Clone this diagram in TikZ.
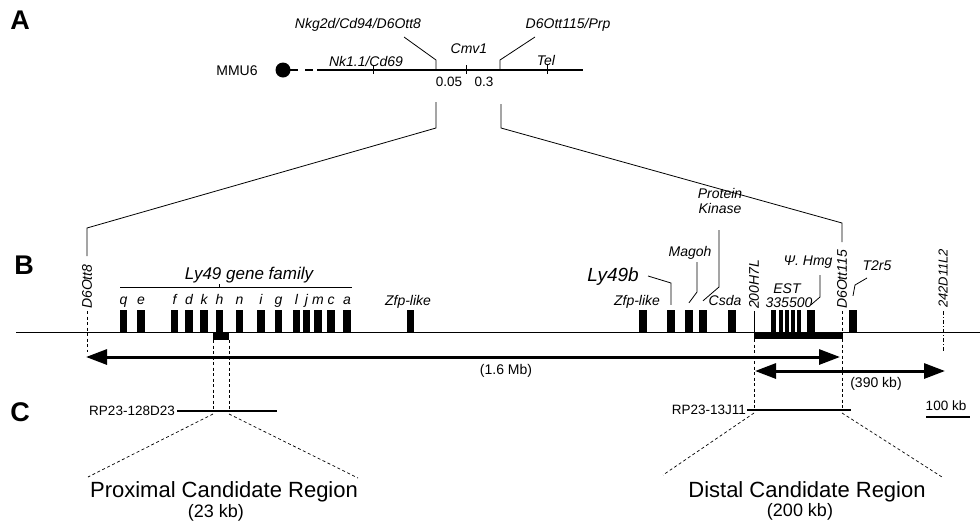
\documentclass[tikz,border=0pt]{standalone}
\usepackage{fontspec}
\setmainfont{Liberation Sans}
\usetikzlibrary{arrows.meta}
\begin{document}
\begin{tikzpicture}[x=1pt,y=-1pt,
  lab/.style={font=\fontsize{14}{16}\selectfont\itshape, inner sep=0pt, anchor=base},
  num/.style={font=\fontsize{13.5}{15}\selectfont, inner sep=0pt, anchor=base},
  big/.style={font=\fontsize{22}{24}\selectfont, inner sep=0pt, anchor=base},
  mid/.style={font=\fontsize{18}{20}\selectfont, inner sep=0pt, anchor=base},
  panel/.style={font=\fontsize{27}{29}\selectfont\bfseries, inner sep=0pt},
  vlab/.style={font=\fontsize{14}{16}\selectfont\itshape, inner sep=0pt, rotate=90, anchor=west},
  gene/.style={fill=black, draw=none, minimum width=7.5pt, minimum height=22pt, inner sep=0pt},
  narrow/.style={gene, minimum width=4.5pt},
  thinline/.style={line width=0.8pt},
  dsh/.style={line width=0.7pt, dash pattern=on 3pt off 2.5pt},
  dshdot/.style={line width=0.7pt, dash pattern=on 4pt off 2pt on 1pt off 2pt},
  bigarrow/.style={line width=3pt, {Triangle[length=21pt,width=15pt]}-{Triangle[length=21pt,width=15pt]}},
  clone/.style={line width=2.5pt}
]
\useasboundingbox (0,0) rectangle (980,523);
\fill[white] (0,0) rectangle (980,523);

% ---------------- Panel A ----------------
\node[panel] (pA) at (20,20) {A};
\node[font=\fontsize{14}{16}\selectfont, inner sep=0pt, anchor=base] (mmu) at (237,75) {MMU6};
\node[circle, fill=black, minimum size=15pt, inner sep=0pt] (cen) at (283,70) {};
\coordinate (d1a) at (290,70); \coordinate (d1b) at (298,70);
\coordinate (d2a) at (305,70); \coordinate (d2b) at (313,70);
\draw[line width=1.5pt] (d1a) -- (d1b) (d2a) -- (d2b);
\coordinate (chrL) at (317,70); \coordinate (chrR) at (583,70);
\draw[line width=1.4pt] (chrL) -- (chrR);
% ticks
\draw[thinline] (373,66) -- (373,74);
\draw[thinline] (466,65) -- (466,74);
\draw[thinline] (547,64) -- (547,74);
\coordinate (tk1) at (436,70); \coordinate (tk1u) at (436,60); \coordinate (tk1e) at (404,37);
\coordinate (tk2) at (500,70); \coordinate (tk2u) at (500,60); \coordinate (tk2e) at (535,37);
\draw[thinline] (tk1) -- (tk1u) -- (tk1e);
\draw[thinline] (tk2) -- (tk2u) -- (tk2e);
\node[lab] (nkg) at (358,28) {Nkg2d/Cd94/D6Ott8};
\node[lab] (d6p) at (568,28) {D6Ott115/Prp};
\node[lab] (cmv) at (469,53) {Cmv1};
\node[lab] (nk1) at (366,66) {Nk1.1/Cd69};
\node[lab] (tel) at (546,65) {Tel};
\node[num] (n005) at (449,86) {0.05};
\node[num] (n03) at (484,86) {0.3};

% zoom lines A -> B
\coordinate (zl1) at (436,102); \coordinate (zl2) at (436,128);
\coordinate (zl3) at (87,228);  \coordinate (zl4) at (87,256);
\coordinate (zr1) at (501,104); \coordinate (zr2) at (501,128);
\coordinate (zr3) at (842,223); \coordinate (zr4) at (842,242);
\draw[thinline] (zl1) -- (zl2) -- (zl3) -- (zl4);
\draw[thinline] (zr1) -- (zr2) -- (zr3) -- (zr4);

% ---------------- Panel B ----------------
\node[panel] (pB) at (24,265) {B};
\coordinate (bL) at (16,332); \coordinate (bR) at (980,332);
\draw[line width=1pt] (bL) -- (bR);

% Ly49 family
\node[font=\fontsize{17}{19}\selectfont\itshape, inner sep=0pt, anchor=base] (ly49) at (249,279) {Ly49 gene family};
\coordinate (brL) at (120,287); \coordinate (brR) at (352,287);
\draw[thinline] (brL) -- (brR);
\draw[thinline] (219.5,284) -- (219.5,287);
\foreach \n/\x in {q/123.5, e/141, f/174.5, d/189, k/204, h/219.5, n/239.5, i/261, g/278.5, l/296.5, j/306.5, m/318, c/331, a/347}{
  \node[gene] (b\n) at (\x,321) {};
  \node[lab] (l\n) at (\x,304) {\n};
}
\node[gene] (bzfp1) at (410.5,321) {};
\node[lab] (zfp1) at (408,305) {Zfp-like};

% right genes
\node[gene] (bzfp2) at (643,321) {};
\node[gene] (bly49b) at (671,321) {};
\node[gene] (bmagoh) at (689,321) {};
\node[gene] (bpk) at (703,321) {};
\node[gene] (bcsda) at (732,321) {};
\node[narrow] (best1) at (773.5,321) {};
\node[narrow, minimum width=4pt] (best2) at (781,321) {};
\node[narrow, minimum width=4pt] (best3) at (787,321) {};
\node[narrow, minimum width=4pt] (best4) at (793,321) {};
\node[narrow, minimum width=4pt] (best5) at (799,321) {};
\node[gene] (bhmg) at (811,321) {};
\node[gene] (bt2r5) at (853,321) {};

\node[lab] (zfp2) at (637,305) {Zfp-like};
\node[font=\fontsize{19}{21}\selectfont\itshape, inner sep=0pt, anchor=base] (ly49b) at (613,281) {Ly49b};
\node[lab] (magoh) at (690,256) {Magoh};
\node[font=\fontsize{14}{15}\selectfont\itshape, inner sep=0pt, anchor=base, align=center] (pk) at (720,213) {Protein\\Kinase};
\node[lab] (csda) at (725,305) {Csda};
\node[lab] (est) at (787,293) {EST};
\node[lab] (est2) at (789,307) {335500};
\node[lab] (hmg) at (808,265) {Ψ. Hmg};
\node[lab] (t2r5) at (877,270) {T2r5};

% leaders
\coordinate (lyA) at (648,276); \coordinate (lyB) at (671,283);
\draw[thinline] (lyA) -- (lyB) -- ([yshift=5pt]bly49b.north);
\coordinate (mgA) at (697,262); \coordinate (mgB) at (697,292);
\draw[thinline] (mgA) -- (mgB) -- ([yshift=7pt]bmagoh.north);
\coordinate (pkA) at (719,230); \coordinate (pkB) at (719,287);
\draw[thinline] (pkA) -- (pkB) -- ([yshift=9pt]bpk.north);
\coordinate (hmA) at (820,275); \coordinate (hmB) at (820,297);
\draw[thinline] (hmA) -- (hmB) -- ([yshift=5pt]bhmg.north);
\coordinate (t2A) at (867,278); \coordinate (t2B) at (855,285);
\draw[thinline] (t2A) -- (t2B) -- ([yshift=14pt]bt2r5.north);

% vertical markers
\node[vlab] (m1) at (87,309) {D6Ott8};
\node[vlab] (m2) at (754,309) {200H7L};
\node[vlab] (m3) at (842,309) {D6Ott115};
\node[vlab, font=\fontsize{13}{15}\selectfont\itshape] (m4) at (943,308) {242D11L2};

% thick bars below line
\fill (213,332) rectangle (229,340);
\fill (754,332) rectangle (843,339);
\draw[thinline] (754,311) -- (754,332);
\draw[dsh] (842,311) -- (842,339);
\draw[dsh] (87,311) -- (87,352);
\draw[dshdot] (943,311) -- (943,352);

% arrows
\coordinate (a1L) at (86,357); \coordinate (a1R) at (840,357);
\draw[bigarrow] (a1L) -- (a1R);
\node[font=\fontsize{14}{16}\selectfont, inner sep=0pt, anchor=base] (mb) at (506,374) {(1.6 Mb)};
\coordinate (a2L) at (755,371); \coordinate (a2R) at (945,371);
\draw[bigarrow] (a2L) -- (a2R);
\node[font=\fontsize{14}{16}\selectfont, inner sep=0pt, anchor=base] (kb390) at (876,387) {(390 kb)};

% dashed drops to C
\draw[dsh] (213,340) -- (213,411);
\draw[dsh] (229,340) -- (229,411);
\draw[dsh] (754,339) -- (754,410);
\draw[dsh] (842,339) -- (842,410);

% ---------------- Panel C ----------------
\node[panel] (pC) at (20,412) {C};
\coordinate (c1L) at (177,411); \coordinate (c1R) at (277,411);
\draw[clone] (c1L) -- (c1R);
\node[num, anchor=base east] (rp1) at (175,415) {RP23-128D23};
\coordinate (c2L) at (747,410); \coordinate (c2R) at (851,410);
\draw[clone] (c2L) -- (c2R);
\node[num, anchor=base east] (rp2) at (746,414) {RP23-13J11};
\coordinate (sbL) at (926,417); \coordinate (sbR) at (970,417);
\draw[clone] (sbL) -- (sbR);
\node[num] (kb100) at (946,410) {100 kb};

\draw[dsh] (213,414) -- (88,477);
\draw[dsh] (229,414) -- (358,478);
\draw[dsh] (754,413) -- (663,475);
\draw[dsh] (842,413) -- (942,477);

\node[big] (prox) at (224,497) {Proximal Candidate Region};
\node[mid] (prox2) at (216,517) {(23 kb)};
\node[big] (dist) at (807,497) {Distal Candidate Region};
\node[mid] (dist2) at (800,516) {(200 kb)};
\end{tikzpicture}
\end{document}
